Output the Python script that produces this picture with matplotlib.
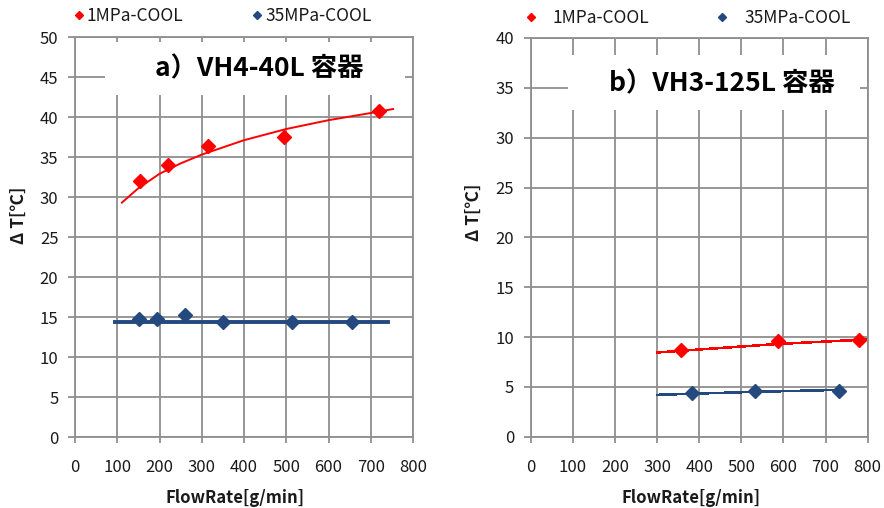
import matplotlib
matplotlib.use("Agg")
import matplotlib.pyplot as plt
from matplotlib.patches import Rectangle

plt.rcParams['font.family'] = ['Noto Sans CJK JP', 'DejaVu Sans']

# ---- panel a) VH4-40L ----
a_title = "a）VH4-40L 容器"
a_cool1_x = [155, 219, 314, 495, 719]
a_cool1_y = [32.0, 34.0, 36.4, 37.5, 40.7]
a_cool35_x = [152, 193, 260, 350, 514, 655]
a_cool35_y = [14.75, 14.8, 15.3, 14.4, 14.4, 14.4]
a_trend1_x = [111, 150, 200, 250, 300, 400, 500, 600, 700, 753]
a_trend1_y = [29.3, 31.1, 32.9, 34.2, 35.3, 37.1, 38.5, 39.6, 40.5, 41.0]
a_trend35_x = [95, 740]
a_trend35_y = [14.4, 14.4]
a_yticks = [0, 5, 10, 15, 20, 25, 30, 35, 40, 45, 50]

# ---- panel b) VH3-125L ----
b_title = "b）VH3-125L 容器"
b_cool1_x = [356, 586, 779]
b_cool1_y = [8.7, 9.65, 9.7]
b_cool35_x = [382, 532, 731]
b_cool35_y = [4.35, 4.6, 4.6]
b_trend1_x = [300, 585, 795]
b_trend1_y = [8.45, 9.3, 9.75]
b_trend35_x = [300, 530, 735]
b_trend35_y = [4.2, 4.5, 4.7]
b_yticks = [0, 5, 10, 15, 20, 25, 30, 35, 40]

xticks = [0, 100, 200, 300, 400, 500, 600, 700, 800]
labels = ["1MPa-COOL", "35MPa-COOL"]

RED = "#ff0000"
BLUE = "#23497e"
GRID = "#8f8f8f"
TEXT = "#1a1a1a"

fig = plt.figure(figsize=(8.84, 5.08), dpi=100)
ax_a = fig.add_axes([75 / 884, 1 - 437 / 508, 338 / 884, 400 / 508])
ax_b = fig.add_axes([530.7 / 884, 1 - 436.7 / 508, 337 / 884, 398.7 / 508])


def style_axes(ax, yticks):
    ax.set_xlim(0, 800)
    ax.set_ylim(yticks[0], yticks[-1])
    ax.set_xticks(xticks)
    ax.set_yticks(yticks)
    ax.set_axisbelow(True)
    ax.grid(True, color=GRID, lw=1.3)
    for s in ax.spines.values():
        s.set_color(GRID)
        s.set_linewidth(1.3)
    ax.tick_params(axis='y', direction='out', length=5, width=1.3,
                   color=GRID, pad=7, labelsize=12, labelcolor=TEXT)
    ax.tick_params(axis='x', direction='out', length=4, width=1.3,
                   color=GRID, pad=12, labelsize=12, labelcolor=TEXT)
    ax.set_xlabel("FlowRate[g/min]", fontsize=12, fontweight='bold',
                  color=TEXT)
    ax.set_ylabel("Δ T[℃]", fontsize=12.5, fontweight='bold', color=TEXT)


def draw_panel(ax, yticks, title, c1x, c1y, c35x, c35y, t1x, t1y, t35x, t35y,
               t1w, t35w, aa, box, title_xy):
    style_axes(ax, yticks)
    ax.add_patch(Rectangle((box[0], box[1]), box[2] - box[0], box[3] - box[1],
                           transform=ax.transData, facecolor='white',
                           edgecolor='none', zorder=1))
    ax.text(title_xy[0], title_xy[1], title, transform=ax.transData,
            ha='center', va='center', fontsize=19, fontweight='bold',
            color='black', zorder=3)
    ax.plot(t1x, t1y, color=RED, lw=t1w, antialiased=aa, zorder=2)
    ax.plot(t35x, t35y, color=BLUE, lw=t35w, antialiased=aa, zorder=2)
    h1, = ax.plot(c1x, c1y, ls='none', marker='D', ms=7.6, color=RED,
                  label=labels[0], zorder=4)
    h2, = ax.plot(c35x, c35y, ls='none', marker='D', ms=7.6, color=BLUE,
                  label=labels[1], zorder=4)
    return h1, h2


ha1, ha2 = draw_panel(ax_a, a_yticks, a_title, a_cool1_x, a_cool1_y,
                      a_cool35_x, a_cool35_y, a_trend1_x, a_trend1_y,
                      a_trend35_x, a_trend35_y, 1.4, 2.8, True,
                      (71, 42.75, 781, 49.4), (435, 46.0))
hb1, hb2 = draw_panel(ax_b, b_yticks, b_title, b_cool1_x, b_cool1_y,
                      b_cool35_x, b_cool35_y, b_trend1_x, b_trend1_y,
                      b_trend35_x, b_trend35_y, 1.1, 1.1, False,
                      (88, 32.8, 781, 38.3), (453, 35.4))

ax_a.yaxis.set_label_coords(-0.139, 0.555)
ax_b.yaxis.set_label_coords(-0.1415, 0.562)
ax_a.xaxis.set_label_coords(0.473, -0.13)
ax_b.xaxis.set_label_coords(0.477, -0.131)

leg_a = ax_a.legend([ha1, ha2], labels, loc='center left', ncol=2,
                    bbox_to_anchor=(-0.009, 1.0525), frameon=False,
                    fontsize=12.5, markerscale=0.56, handlelength=0.8,
                    handletextpad=0.05, columnspacing=3.85, borderpad=0,
                    borderaxespad=0)
leg_b = ax_b.legend([hb1, hb2], labels, loc='center left', ncol=2,
                    bbox_to_anchor=(-0.02, 1.051), frameon=False,
                    fontsize=12.5, markerscale=0.56, handlelength=0.8,
                    handletextpad=0.86, columnspacing=3.8, borderpad=0,
                    borderaxespad=0)
for leg in (leg_a, leg_b):
    for t in leg.get_texts():
        t.set_color(TEXT)

fig.savefig("out.png", dpi=100)
